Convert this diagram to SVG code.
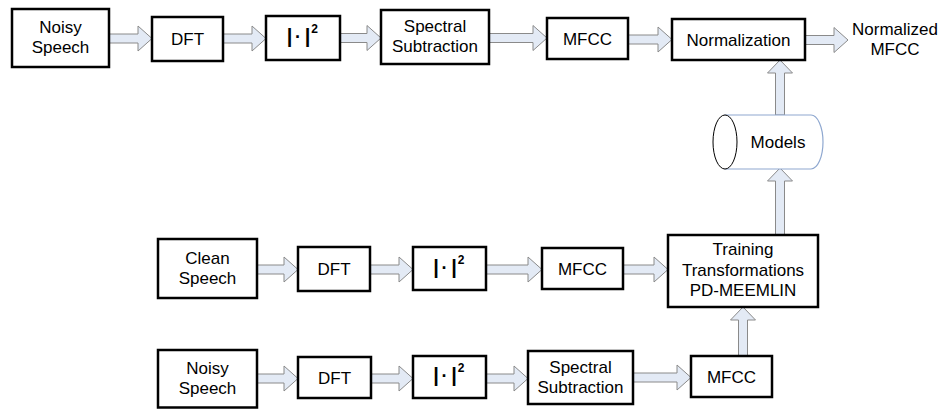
<svg xmlns="http://www.w3.org/2000/svg" width="939" height="409" viewBox="0 0 939 409">
  <style>
    .box { fill: #ffffff; stroke: #000000; stroke-width: 2.5; }
    .lbl { font-family: "Liberation Sans", Arial, sans-serif; font-size: 17px; fill: #000000; text-anchor: middle; }
    .abs { font-family: "Liberation Sans", Arial, sans-serif; font-size: 20px; font-weight: bold; fill: #000000; text-anchor: middle; }
    .dot { font-size: 18px; }
    .sup { font-size: 12px; font-weight: bold; }
    .arrow { fill: #E3EAF5; stroke: #8A8A8A; stroke-width: 1; stroke-linejoin: miter; }
    .cyl-body { fill: #ffffff; stroke: #8FA8D0; stroke-width: 1.2; }
    .cyl-end { fill: #ffffff; stroke: #000000; stroke-width: 1; }
  </style>

  <!-- block arrows -->
  <g id="connectors">
    <!-- top row (y ≈ 38) -->
    <polygon class="arrow" points="109,34 138,34 138,26 152,38.5 138,51 138,43 109,43"/>
    <polygon class="arrow" points="223,34 252,34 252,26 266,38.5 252,51 252,43 223,43"/>
    <polygon class="arrow" points="340,33.5 367,33.5 367,25.5 381,38 367,50.5 367,42.5 340,42.5"/>
    <polygon class="arrow" points="489,33.5 533,33.5 533,25.5 547,38 533,50.5 533,42.5 489,42.5"/>
    <polygon class="arrow" points="628,35 658,35 658,27 672,39.5 658,52 658,44 628,44"/>
    <polygon class="arrow" points="805,35.5 834,35.5 834,27.5 848,40 834,52.5 834,44.5 805,44.5"/>
    <!-- models -> normalization -->
    <polygon class="arrow" points="775.5,115 775.5,73 767.5,73 780,60 792.5,73 784.5,73 784.5,115"/>
    <!-- training -> models -->
    <polygon class="arrow" points="775.5,235 775.5,181 767.5,181 780,168 792.5,181 784.5,181 784.5,235"/>

    <!-- middle row (y ≈ 269.5) -->
    <polygon class="arrow" points="257,265 284,265 284,257 298,269.5 284,282 284,274 257,274"/>
    <polygon class="arrow" points="370,265 399,265 399,257 413,269.5 399,282 399,274 370,274"/>
    <polygon class="arrow" points="486,265 528,265 528,257 542,269.5 528,282 528,274 486,274"/>
    <polygon class="arrow" points="623,265 654,265 654,257 668,269.5 654,282 654,274 623,274"/>

    <!-- bottom row (y ≈ 378.5) -->
    <polygon class="arrow" points="257,374 284,374 284,366 298,378.5 284,391 284,383 257,383"/>
    <polygon class="arrow" points="371,374 399,374 399,366 413,378.5 399,391 399,383 371,383"/>
    <polygon class="arrow" points="486,374 514,374 514,366 528,378.5 514,391 514,383 486,383"/>
    <polygon class="arrow" points="633,373 677,373 677,365 691,377.5 677,390 677,382 633,382"/>
    <!-- mfcc -> training -->
    <polygon class="arrow" points="738.5,356 738.5,320 730.5,320 743,307 755.5,320 747.5,320 747.5,356"/>
  </g>

  <!-- top row: noisy speech recognition path -->
  <g id="noisy-speech-top">
    <rect class="box" x="12" y="9" width="97" height="58"/>
    <text class="lbl" x="60.5" y="33">Noisy</text>
    <text class="lbl" x="60.5" y="53">Speech</text>
  </g>
  <g id="dft-top">
    <rect class="box" x="152" y="17" width="71" height="44"/>
    <text class="lbl" x="187.5" y="45">DFT</text>
  </g>
  <g id="power-top">
    <rect class="box" x="266" y="16" width="74" height="44"/>
    <text class="abs" y="43"><tspan x="289.5">|</tspan><tspan class="dot" x="298">·</tspan><tspan x="307.5">|</tspan><tspan class="sup" x="314.5" dy="-10">2</tspan></text>
  </g>
  <g id="spectral-sub-top">
    <rect class="box" x="381" y="10" width="108" height="54"/>
    <text class="lbl" x="435" y="32">Spectral</text>
    <text class="lbl" x="435" y="52">Subtraction</text>
  </g>
  <g id="mfcc-top">
    <rect class="box" x="547" y="18" width="81" height="41"/>
    <text class="lbl" x="587.5" y="44.5">MFCC</text>
  </g>
  <g id="normalization">
    <rect class="box" x="672" y="19" width="133" height="41"/>
    <text class="lbl" x="738.5" y="45.5">Normalization</text>
  </g>
  <g id="output-label">
    <text class="lbl" x="895" y="35">Normalized</text>
    <text class="lbl" x="895" y="55">MFCC</text>
  </g>

  <!-- model store -->
  <g id="models">
    <path class="cyl-body" d="M725,115 H811 A12,27 0 0 1 811,169 H725 Z"/>
    <ellipse class="cyl-end" cx="725" cy="142" rx="12" ry="27"/>
    <text class="lbl" x="778" y="148">Models</text>
  </g>

  <!-- middle row: clean speech training path -->
  <g id="clean-speech">
    <rect class="box" x="158" y="239" width="99" height="59"/>
    <text class="lbl" x="207.5" y="264">Clean</text>
    <text class="lbl" x="207.5" y="284">Speech</text>
  </g>
  <g id="dft-clean">
    <rect class="box" x="298" y="247" width="72" height="44"/>
    <text class="lbl" x="334" y="275">DFT</text>
  </g>
  <g id="power-clean">
    <rect class="box" x="413" y="247" width="73" height="43"/>
    <text class="abs" y="274"><tspan x="436">|</tspan><tspan class="dot" x="444.5">·</tspan><tspan x="454">|</tspan><tspan class="sup" x="461" dy="-10">2</tspan></text>
  </g>
  <g id="mfcc-clean">
    <rect class="box" x="542" y="248" width="81" height="41"/>
    <text class="lbl" x="582.5" y="274.5">MFCC</text>
  </g>
  <g id="training">
    <rect class="box" x="668" y="235" width="150" height="72"/>
    <text class="lbl" x="743" y="255">Training</text>
    <text class="lbl" x="743" y="275.5">Transformations</text>
    <text class="lbl" x="743" y="296">PD-MEEMLIN</text>
  </g>

  <!-- bottom row: noisy speech training path -->
  <g id="noisy-speech-bottom">
    <rect class="box" x="158" y="350" width="99" height="57.5"/>
    <text class="lbl" x="207.5" y="374">Noisy</text>
    <text class="lbl" x="207.5" y="394">Speech</text>
  </g>
  <g id="dft-bottom">
    <rect class="box" x="298" y="357" width="73" height="41"/>
    <text class="lbl" x="334.5" y="384">DFT</text>
  </g>
  <g id="power-bottom">
    <rect class="box" x="413" y="356" width="73" height="42"/>
    <text class="abs" y="382"><tspan x="436">|</tspan><tspan class="dot" x="444.5">·</tspan><tspan x="454">|</tspan><tspan class="sup" x="461" dy="-10">2</tspan></text>
  </g>
  <g id="spectral-sub-bottom">
    <rect class="box" x="528" y="351" width="105" height="53"/>
    <text class="lbl" x="580.5" y="372.5">Spectral</text>
    <text class="lbl" x="580.5" y="393">Subtraction</text>
  </g>
  <g id="mfcc-bottom">
    <rect class="box" x="691" y="356" width="81" height="41"/>
    <text class="lbl" x="731.5" y="382.5">MFCC</text>
  </g>
</svg>
